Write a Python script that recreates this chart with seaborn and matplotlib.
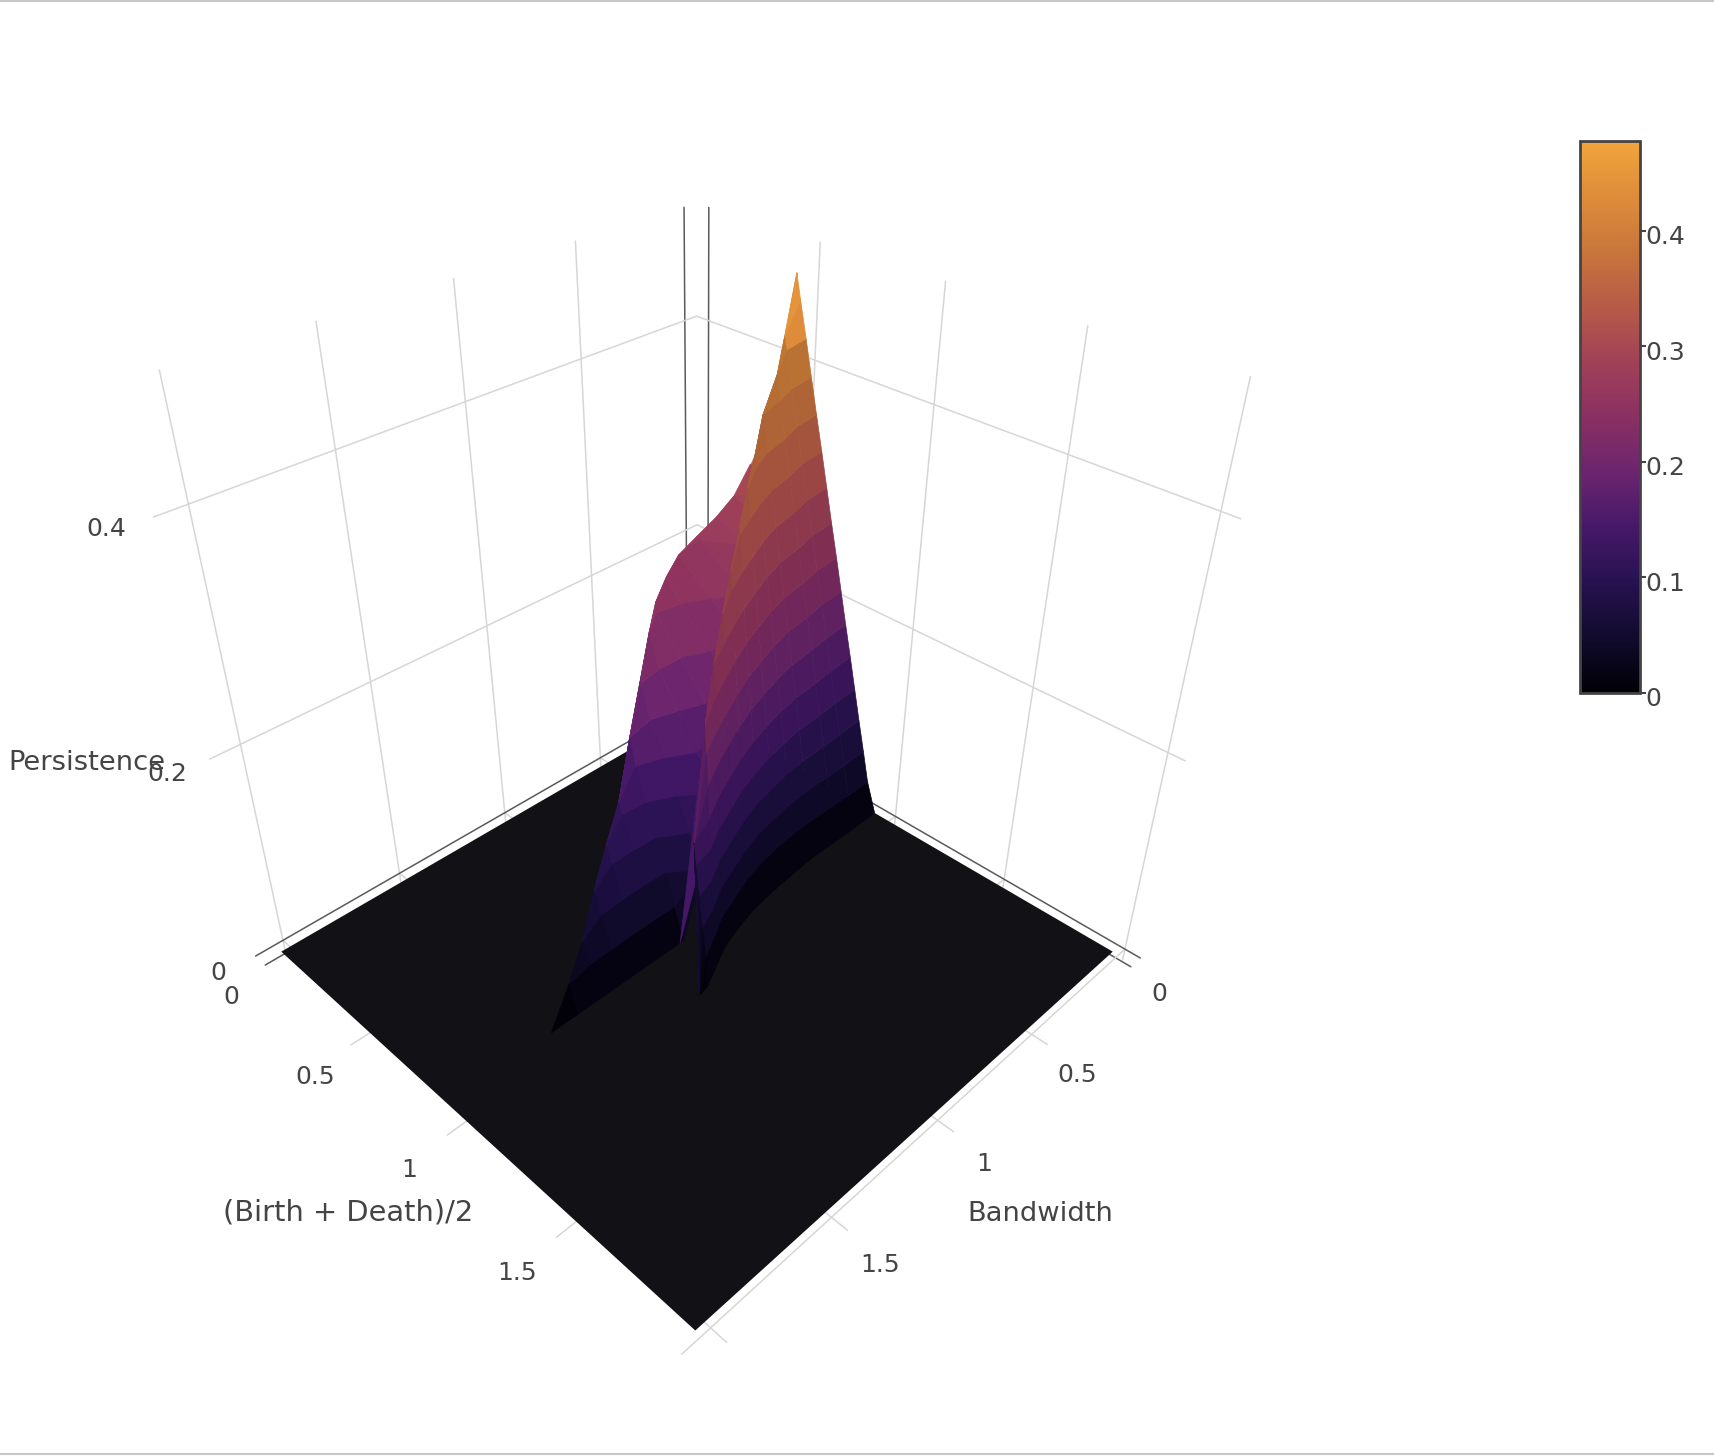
import numpy as np
import matplotlib
matplotlib.use("Agg")
import matplotlib.pyplot as plt
from matplotlib.cm import ScalarMappable
from matplotlib.colors import Normalize
from matplotlib.lines import Line2D
from matplotlib.transforms import ScaledTranslation
import seaborn as sns

# ---- data ----
# front face: for each bandwidth row, the midpoint where the surface passes each height level
front_bandwidth = [-0.02, 0.1, 0.2, 0.32, 0.42, 0.52, 0.62, 0.72, 0.82, 0.92, 1.02, 1.1, 1.15]
front_levels = [0, .03, .06, .09, .12, .15, .18, .21, .24, .27, .30, .33, .36, .39, .42, .45, .48]
spine_height = [.47, .43, .41, .39, .37, .355, .335, .315, .295, .27, .235, .14, 0]
front_midpoint = [
 [.93,.885,.855,.824,.794,.764,.733,.703,.673,.642,.612,.582,.551,.521,.491,.46,.44],
 [.935,.89,.861,.832,.802,.773,.744,.715,.685,.656,.627,.598,.568,.539,.51,.50,.50],
 [.935,.89,.864,.838,.812,.786,.76,.734,.708,.682,.655,.629,.603,.577,.56,.56,.56],
 [.935,.89,.867,.843,.82,.797,.773,.75,.727,.703,.68,.657,.633,.61,.61,.61,.61],
 [.94,.895,.875,.855,.835,.816,.796,.776,.756,.736,.716,.696,.677,.67,.67,.67,.67],
 [.95,.905,.889,.873,.856,.84,.824,.808,.792,.776,.76,.743,.73,.73,.73,.73,.73],
 [.96,.92,.907,.894,.882,.869,.856,.843,.83,.818,.805,.792,.79,.79,.79,.79,.79],
 [.975,.945,.935,.925,.915,.905,.895,.885,.875,.865,.855,.85,.85,.85,.85,.85,.85],
 [1.0,.98,.972,.964,.956,.948,.94,.932,.925,.917,.91,.91,.91,.91,.91,.91,.91],
 [1.03,1.015,1.009,1.004,.998,.993,.987,.981,.976,.97,.97,.97,.97,.97,.97,.97,.97],
 [1.08,1.07,1.064,1.058,1.052,1.047,1.041,1.035,1.03,1.03,1.03,1.03,1.03,1.03,1.03,1.03,1.03],
 [1.12,1.11,1.096,1.083,1.069,1.06,1.06,1.06,1.06,1.06,1.06,1.06,1.06,1.06,1.06,1.06,1.06],
 [1.13,1.13,1.13,1.13,1.13,1.13,1.13,1.13,1.13,1.13,1.13,1.13,1.13,1.13,1.13,1.13,1.13],
]
# left lobe: crest to valley, again per height level
lobe_bandwidth = [0.1, 0.2, 0.3, 0.4, 0.5, 0.6, 0.7, 0.8, 0.9, 1.0, 1.1, 1.2, 1.3, 1.4, 1.5, 1.61]
lobe_levels = [0, .03, .06, .09, .12, .15, .18, .21, .24, .27, .30, .33]
crest_height = [.31, .29, .28, .272, .265, .258, .25, .24, .215, .175, .13, .105, .08, .05, .028, 0]
valley_height = [.30, .28, .27, .24, .22, .19, .16, .12, .06, 0, 0, 0, 0, 0, 0, 0]
lobe_midpoint = [
 [.48,.48,.48,.48,.48,.48,.48,.48,.48,.48,.48,.36],
 [.52,.52,.52,.52,.52,.52,.52,.52,.52,.52,.375,.375],
 [.56,.56,.56,.56,.56,.56,.56,.56,.56,.56,.385,.385],
 [.62,.62,.62,.62,.62,.62,.62,.62,.62,.404,.39,.39],
 [.68,.68,.68,.68,.68,.68,.68,.68,.556,.40,.40,.40],
 [.74,.74,.74,.74,.74,.74,.74,.648,.509,.44,.44,.44],
 [.80,.80,.80,.80,.80,.80,.723,.606,.49,.49,.49,.49],
 [.86,.86,.86,.86,.86,.774,.689,.603,.56,.56,.56,.56],
 [.90,.90,.90,.84,.78,.72,.66,.62,.62,.62,.62,.62],
 [.91,.865,.821,.776,.732,.687,.665,.665,.665,.665,.665,.665],
 [.91,.864,.818,.772,.725,.71,.71,.71,.71,.71,.71,.71],
 [.91,.864,.819,.773,.75,.75,.75,.75,.75,.75,.75,.75],
 [.91,.867,.824,.795,.795,.795,.795,.795,.795,.795,.795,.795],
 [.91,.868,.84,.84,.84,.84,.84,.84,.84,.84,.84,.84],
 [.91,.88,.88,.88,.88,.88,.88,.88,.88,.88,.88,.88],
 [.91,.91,.91,.91,.91,.91,.91,.91,.91,.91,.91,.91],
]
# narrow flank between the valley and the spine
flank_bandwidth = [-0.02, 0.1, 0.2, 0.32, 0.42, 0.52, 0.62, 0.72, 0.82, 0.92, 1.02]
flank_midpoint = [[.44, .44], [.48, .50], [.52, .56], [.56, .61], [.62, .67], [.68, .73],
                  [.74, .79], [.80, .85], [.86, .91], [.90, .97], [.91, 1.03]]
flank_height = [[.47, .47], [.30, .43], [.28, .41], [.27, .39], [.24, .37], [.22, .355],
                [.19, .335], [.16, .315], [.12, .295], [.06, .27], [0, .235]]
# back shoulder of the peak
shoulder_bandwidth = [-0.02, 0.1]
shoulder_midpoint = [[.33, .44], [.36, .48]]
shoulder_height = [[.33, .47], [.31, .30]]

floor_bandwidth = [-0.02, 2.035]
floor_midpoint = [-0.02, 1.975]
plane_ticks = [0, 0.5, 1, 1.5, 2]
height_ticks = [0, 0.2, 0.4]
bar_ticks = [0, 0.1, 0.2, 0.3, 0.4]
bar_tick_labels = ["0", "0.1", "0.2", "0.3", "0.4"]
z_max = 0.4775
palette = ["#000005", "#110b2d", "#261250", "#461868", "#6b256e", "#8a3062",
           "#a04158", "#b75a48", "#c8753c", "#de8c3a", "#f0a53c"]

# ---- layout ----
W, H = 1714, 1456
AX_LEFT, AX_BOTTOM, AX_SIDE = -21, 31, 1409
LO, HI, Z_BOX = -0.06, 2.0, 0.485
B_EXT, M_EXT, Z_LOW, Z_TOP = 0.11, 0.06, -0.012, 0.495
GREY, DARK, INK = "#d6d6d6", "#5a5a5a", "#444444"
TICK_PT, TITLE_PT = 18, 19.7

sns.set_theme(style="white")
plt.rcParams["font.family"] = ["DejaVu Sans"]
cmap = sns.blend_palette(palette, as_cmap=True)
norm = Normalize(0, z_max)

fig = plt.figure(figsize=(W / 100, H / 100), dpi=100, facecolor="white")
ax = fig.add_axes([AX_LEFT / W, AX_BOTTOM / H, AX_SIDE / W, AX_SIDE / H],
                  projection="3d", computed_zorder=False)
ax.set_proj_type("persp", focal_length=0.2014)
ax.view_init(elev=35.2, azim=45)
ax.set_box_aspect((1, 1.03, 1.015), zoom=0.8)
ax.set_xlim(LO, HI, view_margin=0)
ax.set_ylim(LO, HI, view_margin=0)
ax.set_zlim(0, Z_BOX, view_margin=0)
ax.set_axis_off()
ax.patch.set_alpha(0)


def line(xs, ys, zs, zero):
    ax.plot(xs, ys, zs, color=DARK if zero else GREY, lw=1.1, zorder=1, clip_on=False)


for t in plane_ticks:
    line([t, t], [LO, LO], [Z_LOW, Z_TOP], t == 0)
    line([LO, LO], [t, t], [Z_LOW, Z_TOP], t == 0)
    line([t, t], [LO, HI + M_EXT], [0, 0], t == 0)
    line([LO, HI + B_EXT], [t, t], [0, 0], t == 0)
for z in height_ticks:
    line([LO, HI + B_EXT], [LO, LO], [z, z], z == 0)
    line([LO, LO], [LO, HI + M_EXT], [z, z], z == 0)

# floor plane
fb, fm = np.meshgrid(floor_bandwidth, floor_midpoint, indexing="ij")
floor = ax.plot_surface(fb, fm, np.zeros_like(fb), color="#121216", shade=False,
                        linewidth=0, zorder=1.5)
floor.set_clip_on(False)


def sheet(b, m, z, order, light=1.0):
    b = np.asarray(b, float)
    m = np.asarray(m, float)
    z = np.asarray(z, float)
    bb = np.repeat(b[:, None], m.shape[1], axis=1)
    cell = (z[:-1, :-1] + z[1:, :-1] + z[:-1, 1:] + z[1:, 1:]) / 4
    colors = cmap(norm(cell))
    colors[cell < 0.43, :3] *= light
    colors[cell == 0, 3] = 0
    s = ax.plot_surface(bb, m, z, rstride=1, cstride=1, facecolors=colors, shade=False, zorder=order)
    s.set_edgecolor(colors.reshape(-1, 4))
    s.set_linewidth(0.5)
    s.set_clip_on(False)


lobe_z = np.clip(np.array(lobe_levels)[None, :],
                 np.array(valley_height)[:, None], np.array(crest_height)[:, None])
front_z = np.minimum(np.array(front_levels)[None, :], np.array(spine_height)[:, None])

sheet(shoulder_bandwidth, shoulder_midpoint, shoulder_height, 1.9)
sheet(lobe_bandwidth, lobe_midpoint, lobe_z, 2)
sheet(flank_bandwidth, flank_midpoint, flank_height, 2.5)
sheet(front_bandwidth, front_midpoint, front_z, 3, light=0.88)


def label(x, y, s, pt):
    fig.text(x / W, 1 - y / H, s, ha="center", va="center", fontsize=pt, color=INK)


for (x, y), s in zip([(218, 973), (167, 774), (106, 529)], ["0", "0.2", "0.4"]):
    label(x, y, s, TICK_PT)
for (x, y), s in zip([(231, 997), (315, 1077), (409, 1170), (517, 1273)], ["0", "0.5", "1", "1.5"]):
    label(x, y, s, TICK_PT)
for (x, y), s in zip([(1159, 994), (1077, 1075), (984, 1164), (880, 1265)], ["0", "0.5", "1", "1.5"]):
    label(x, y, s, TICK_PT)
label(87, 763, "Persistence", TITLE_PT)
label(348, 1212, "(Birth + Death)/2", 20.8)
label(1040, 1214, "Bandwidth", TITLE_PT)

# colour bar
cax = fig.add_axes([1580 / W, 1 - 693 / H, 60 / W, 552 / H])
cb = fig.colorbar(ScalarMappable(norm=norm, cmap=cmap), cax=cax)
cb.set_ticks(bar_ticks, labels=bar_tick_labels)
cb.ax.tick_params(length=4, width=1.5, color=INK, labelsize=TICK_PT, labelcolor=INK, pad=0)
shift = ScaledTranslation(0, -4 / 100, fig.dpi_scale_trans)
for t in cb.ax.get_yticklabels():
    t.set_transform(t.get_transform() + shift)
cb.outline.set_edgecolor(INK)
cb.outline.set_linewidth(2)

# thin frame rules at the top and bottom of the page
for yy in (0.9995, 0.0015):
    fig.add_artist(Line2D([0, 1], [yy, yy], color="#c8c8c8", lw=1.5))

fig.savefig("out.png", dpi=100)
